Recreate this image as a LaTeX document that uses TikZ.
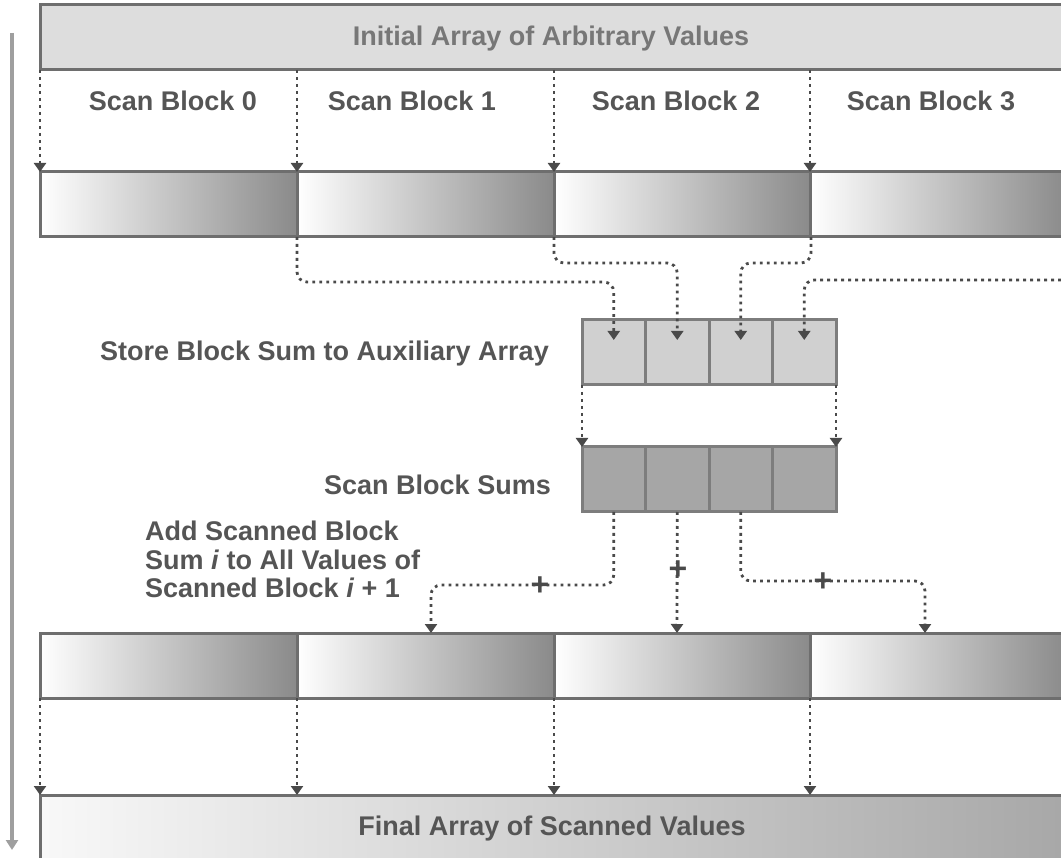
\documentclass[tikz,border=0pt]{standalone}
\usepackage{fontspec}
\setmainfont{Liberation Sans}
\usetikzlibrary{arrows.meta}
\definecolor{txt}{HTML}{555555}
\definecolor{boxline}{HTML}{6E6E6E}
\definecolor{segdark}{HTML}{8A8A8A}
\definecolor{lightbox}{HTML}{DDDDDD}
\definecolor{auxfill}{HTML}{D0D0D0}
\definecolor{sumfill}{HTML}{A6A6A6}
\definecolor{flow}{HTML}{4A4A4A}
\tikzset{
  lbl/.style={font=\bfseries\fontsize{27}{31}\selectfont, text=txt, inner sep=0pt},
  bigbox/.style={draw=boxline, line width=3pt, fill=lightbox, inner sep=0pt, outer sep=0pt, minimum width=1030, minimum height=65},
  seg/.style={draw=boxline, line width=3pt, left color=white, right color=segdark, inner sep=0pt, outer sep=0pt, minimum width=257, minimum height=65},
  cell/.style={draw=boxline!90, line width=3pt, inner sep=0pt, outer sep=0pt, minimum width=63.5, minimum height=65},
  flowline/.style={draw=flow, line width=2.8pt, dash pattern=on 2.8pt off 4.2pt, rounded corners=10pt},
  flowarrow/.style={flowline, -{Triangle[width=12pt,length=9pt]}},
  plus/.style={font=\bfseries\fontsize{32}{32}\selectfont, text=flow, inner sep=0pt},
}
\begin{document}
\begin{tikzpicture}[x=1pt,y=-1pt]
\useasboundingbox (0,0) rectangle (1061,858);
% timeline
\coordinate (tl0) at (12,33);
\coordinate (tl1) at (12,850);
\draw[draw=gray!75, line width=4pt, -{Triangle[width=12pt,length=10pt]}] (tl0) -- (tl1);

% initial array
\node[bigbox, anchor=north west] (init) at (40,5) {};
\node[lbl, text=txt!80] (inittxt) at (551,39) {Initial Array of Arbitrary Values};

% scan block labels
\node[lbl] (sb0) at (173,101) {Scan Block 0};
\node[lbl] (sb1) at (412,101) {Scan Block 1};
\node[lbl] (sb2) at (676,101) {Scan Block 2};
\node[lbl] (sb3) at (931,101) {Scan Block 3};

% top gradient row
\node[seg, anchor=north west] (a0) at (40,172) {};
\node[seg, anchor=north west] (a1) at (297,172) {};
\node[seg, anchor=north west] (a2) at (554,172) {};
\node[seg, anchor=north west] (a3) at (810,172) {};

\foreach \s in {0,1,2,3}{
  \draw[flowarrow] (init.south -| a\s.west) -- (a\s.north west);
}

% auxiliary array
\foreach \i in {0,1,2,3}{
  \node[cell, fill=auxfill, anchor=north west] (x\i) at (582+63.5*\i,320) {};
}
\node[lbl, anchor=east] (storetxt) at (549,354) {Store Block Sum to Auxiliary Array};

\coordinate (in3) at (1061,280);
\draw[flowarrow] (a0.south east) -- ++(0,45) -| ([yshift=-20pt]x0.north);
\draw[flowarrow] (a1.south east) -- ++(0,26) -| ([yshift=-20pt]x1.north);
\draw[flowarrow] (a2.south east) -- ++(0,26) -| ([yshift=-20pt]x2.north);
\draw[flowarrow] (in3) -| ([yshift=-20pt]x3.north);

% scanned block sums
\foreach \i in {0,1,2,3}{
  \node[cell, fill=sumfill, anchor=north west] (s\i) at (582+63.5*\i,447) {};
}
\node[lbl, anchor=east] (sumtxt) at (551,485) {Scan Block Sums};
\draw[flowarrow] (x0.south west) -- (s0.north west);
\draw[flowarrow] (x3.south east) -- (s3.north east);

% add label
\node[lbl, anchor=north west, align=left, font=\bfseries\fontsize{27}{28.5}\selectfont] (addtxt) at (145,521)
  {Add Scanned Block\\Sum \textit{i} to All Values of\\Scanned Block \textit{i} + 1};

% bottom gradient row
\node[seg, anchor=north west] (b0) at (40,633) {};
\node[seg, anchor=north west] (b1) at (297,633) {};
\node[seg, anchor=north west] (b2) at (554,633) {};
\node[seg, anchor=north west] (b3) at (810,633) {};

\coordinate (t0) at (431,633);
\coordinate (t1) at (677,633);
\coordinate (t2) at (925,633);
\draw[flowarrow] (s0.south) -- ++(0,73) -| (t0);
\draw[flowarrow] (s1.south) -- (t1);
\draw[flowarrow] (s2.south) -- ++(0,69) -| (t2);
\node[plus] (p0) at (540,586) {+};
\node[plus] (p1) at (678,570) {+};
\node[plus] (p2) at (823,582) {+};

% final array
\node[draw=boxline, line width=3pt, left color=white!80!lightbox, right color=segdark!75, inner sep=0pt, outer sep=0pt, minimum width=1030, minimum height=70, anchor=north west] (final) at (40,795) {};
\node[lbl] (finaltxt) at (552,829) {Final Array of Scanned Values};

\foreach \s in {0,1,2,3}{
  \draw[flowarrow] (b\s.south west) -- (final.north -| b\s.west);
}
\end{tikzpicture}
\end{document}
